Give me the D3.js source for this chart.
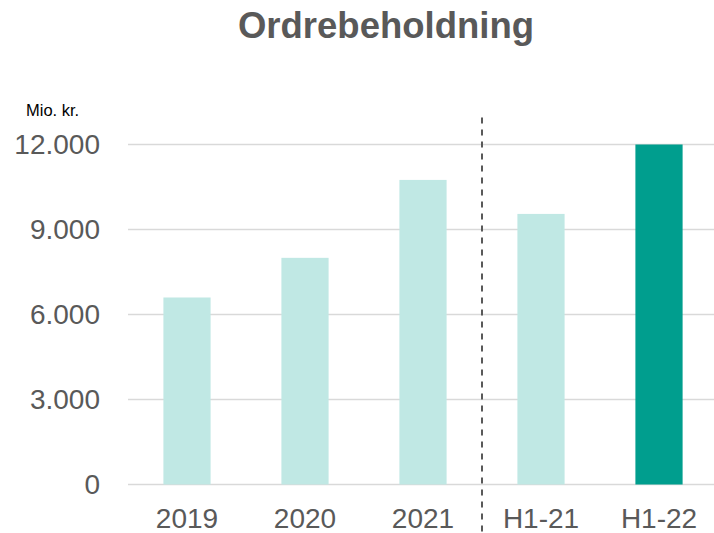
<!DOCTYPE html>
<html>
<head>
<meta charset="utf-8">
<script src="https://cdn.jsdelivr.net/npm/d3@7"></script>
<style>
  body { margin: 0; background: #fff; }
  text { font-family: "Liberation Sans", Arial, sans-serif; }
</style>
</head>
<body>
<div id="chart"></div>
<script>
// Chart data
const categories = ["2019", "2020", "2021", "H1-21", "H1-22"];
const values = [6600, 8000, 10750, 9550, 12000];
const yTicks = [0, 3000, 6000, 9000, 12000];
const highlight = ["H1-22"];

const W = 714, H = 533;
const margin = { top: 144.5, right: -4, bottom: 48.5, left: 128 };
const width = W - margin.left - margin.right,
    height = H - margin.top - margin.bottom;

const svg = d3.select("#chart")
    .append("svg")
    .attr("width", W)
    .attr("height", H);

// Title
svg.append("text")
    .attr("x", 386)
    .attr("y", 38)
    .attr("text-anchor", "middle")
    .attr("font-size", "36.5px")
    .attr("font-weight", "bold")
    .attr("fill", "#595959")
    .text("Ordrebeholdning");

// Unit label
svg.append("text")
    .attr("x", 26)
    .attr("y", 116)
    .attr("font-size", "16.5px")
    .attr("fill", "#000")
    .text("Mio. kr.");

const g = svg.append("g")
    .attr("transform", `translate(${margin.left},${margin.top})`);

const x = d3.scaleBand()
    .domain(categories)
    .range([0, width])
    .paddingInner(0.6)
    .paddingOuter(0.3);

const y = d3.scaleLinear()
    .domain([0, 12000])
    .range([height, 0]);

const fmt = d => d3.format(",")(d).replace(/,/g, ".");

// Gridlines
g.selectAll(".grid")
    .data(yTicks)
    .enter().append("line")
    .attr("x1", 0)
    .attr("x2", width)
    .attr("y1", d => y(d))
    .attr("y2", d => y(d))
    .attr("stroke", "#d9d9d9")
    .attr("stroke-width", 1.5);

// Y tick labels
const yAxis = g.append("g")
    .call(d3.axisLeft(y).tickValues(yTicks).tickFormat(fmt).tickSize(0).tickPadding(28));
yAxis.select(".domain").remove();
yAxis.selectAll("text")
    .attr("font-size", "28px")
    .attr("fill", "#595959")
    .attr("font-family", "'Liberation Sans', Arial, sans-serif");

// Bars
g.selectAll(".bar")
    .data(categories)
    .enter().append("rect")
    .attr("x", d => x(d))
    .attr("width", x.bandwidth())
    .attr("y", (d, i) => y(values[i]))
    .attr("height", (d, i) => height - y(values[i]))
    .attr("fill", d => highlight.includes(d) ? "#009e8e" : "#c0e8e4");

// X tick labels
const xAxis = g.append("g")
    .attr("transform", `translate(0,${height})`)
    .call(d3.axisBottom(x).tickSize(0).tickPadding(24));
xAxis.select(".domain").remove();
xAxis.selectAll("text")
    .attr("font-size", "28px")
    .attr("fill", "#595959")
    .attr("font-family", "'Liberation Sans', Arial, sans-serif");

// Dashed divider between full years and half years
const step = x.step();
const divX = x("H1-21") - (step - x.bandwidth()) / 2;
g.append("line")
    .attr("x1", divX)
    .attr("x2", divX)
    .attr("y1", -27)
    .attr("y2", H - margin.top)
    .attr("stroke", "#595959")
    .attr("stroke-width", 2)
    .attr("stroke-dasharray", "6,6");
</script>
</body>
</html>
